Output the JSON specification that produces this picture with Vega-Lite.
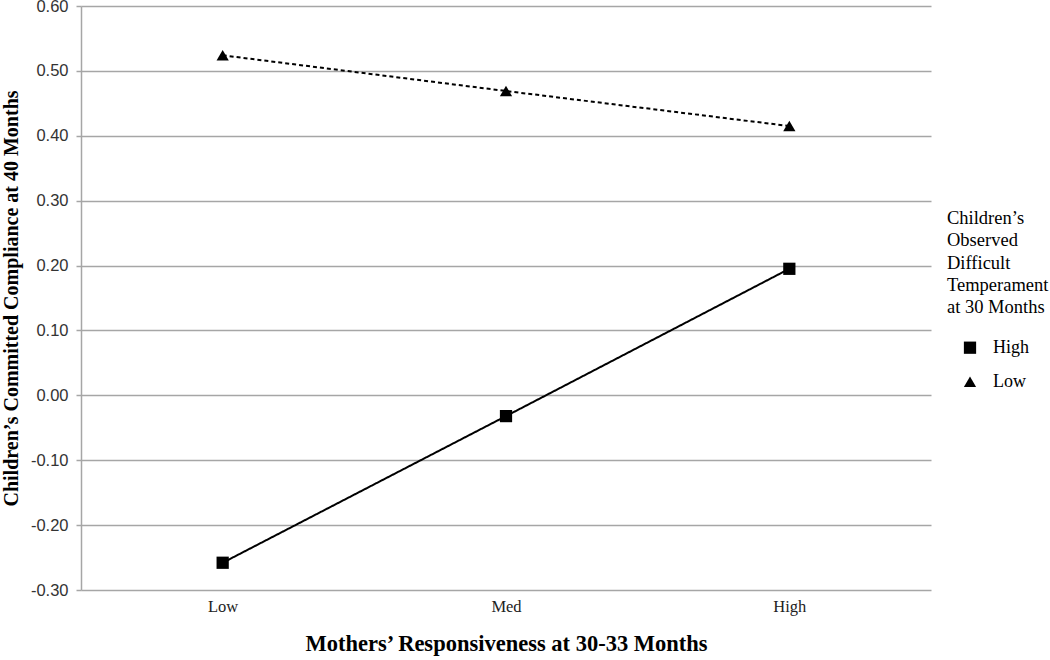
{
  "$schema": "https://vega.github.io/schema/vega-lite/v6.json",
  "autosize": "none",
  "width": 850,
  "height": 584,
  "padding": {"left": 81, "top": 6, "right": 119, "bottom": 70},
  "background": "white",
  "config": {
    "locale": {"number": {"decimal": ".", "thousands": ",", "grouping": [3], "currency": ["$", ""], "minus": "-"}},
    "view": {"stroke": null},
    "axis": {
      "gridColor": "#a6a6a6",
      "gridWidth": 1.5,
      "domainColor": "#a6a6a6",
      "domainWidth": 1.5,
      "tickColor": "#a6a6a6",
      "tickWidth": 1.5
    }
  },
  "data": {
    "values": [
      {"responsiveness": "Low", "temperament": "High", "compliance": -0.258},
      {"responsiveness": "Med", "temperament": "High", "compliance": -0.032},
      {"responsiveness": "High", "temperament": "High", "compliance": 0.195},
      {"responsiveness": "Low", "temperament": "Low", "compliance": 0.524},
      {"responsiveness": "Med", "temperament": "Low", "compliance": 0.469},
      {"responsiveness": "High", "temperament": "Low", "compliance": 0.415}
    ]
  },
  "encoding": {
    "x": {
      "field": "responsiveness",
      "type": "ordinal",
      "sort": ["Low", "Med", "High"],
      "scale": {"type": "point", "padding": 0.5},
      "axis": {
        "title": "Mothers’ Responsiveness at 30-33 Months",
        "titleFont": "Liberation Serif",
        "titleFontSize": 22.5,
        "titleFontWeight": "bold",
        "titleColor": "#000000",
        "titlePadding": 18,
        "labelFont": "Liberation Serif",
        "labelFontSize": 16.5,
        "labelColor": "#222222",
        "labelPadding": 8,
        "labelAngle": 0,
        "ticks": false,
        "domain": false,
        "grid": false
      }
    },
    "y": {
      "field": "compliance",
      "type": "quantitative",
      "scale": {"domain": [-0.3, 0.6], "nice": false, "zero": false},
      "axis": {
        "title": "Children’s  Committed  Compliance  at 40 Months",
        "titleFont": "Liberation Serif",
        "titleFontSize": 20,
        "titleFontWeight": "bold",
        "titleColor": "#000000",
        "titlePadding": 9,
        "values": [-0.3, -0.2, -0.1, 0, 0.1, 0.2, 0.3, 0.4, 0.5, 0.6],
        "format": ".2f",
        "labelFont": "Liberation Sans",
        "labelFontSize": 16.5,
        "labelColor": "#333333",
        "labelPadding": 8,
        "tickSize": 5,
        "grid": true,
        "domain": true
      }
    }
  },
  "layer": [
    {
      "mark": {"type": "line", "color": "#000000", "strokeWidth": 2},
      "encoding": {
        "detail": {"field": "temperament"},
        "strokeDash": {
          "condition": {"test": "datum.temperament === 'Low'", "value": [4, 3]},
          "value": [1, 0]
        }
      }
    },
    {
      "mark": {"type": "point", "filled": true, "color": "#000000", "opacity": 1, "size": 150},
      "encoding": {
        "shape": {
          "field": "temperament",
          "type": "nominal",
          "scale": {"domain": ["High", "Low"], "range": ["square", "triangle-up"]},
          "legend": {
            "title": ["Children’s", "Observed", "Difficult", "Temperament", "at 30 Months"],
            "orient": "none",
            "legendX": 866,
            "legendY": 203,
            "padding": 0,
            "titleFont": "Liberation Serif",
            "titleFontSize": 18.5,
            "titleFontWeight": "normal",
            "titleColor": "#000000",
            "titleLineHeight": 22.3,
            "titlePadding": 22,
            "labelFont": "Liberation Serif",
            "labelFontSize": 18,
            "labelColor": "#000000",
            "labelOffset": 14,
            "symbolSize": 150,
            "symbolOffset": 14,
            "symbolStrokeWidth": 1,
            "symbolStrokeColor": "#000000",
            "symbolFillColor": "#000000",
            "symbolOpacity": 1,
            "rowPadding": 16
          }
        }
      }
    }
  ]
}
